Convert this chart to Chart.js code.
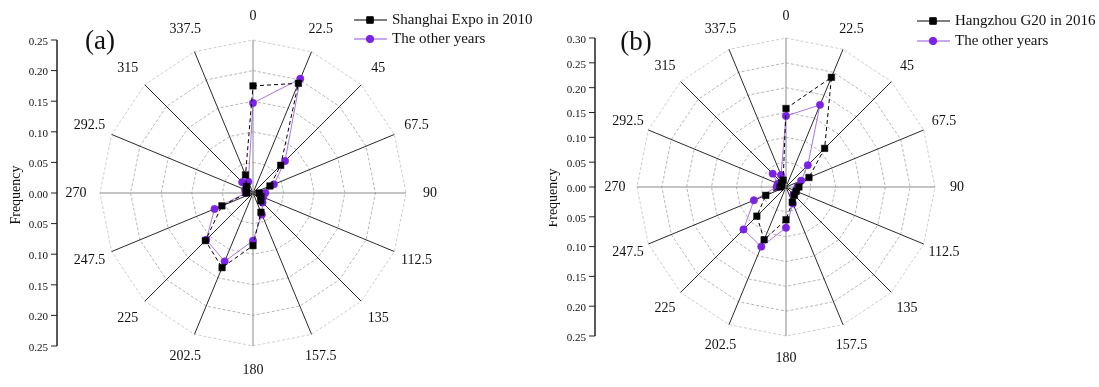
<!DOCTYPE html>
<html>
<head>
<meta charset="utf-8">
<script src="https://cdn.jsdelivr.net/npm/chart.js@4.4.1/dist/chart.umd.min.js"></script>
<style>
	body { margin: 0; background: #fff; }
	#wrap { position: relative; width: 1099px; height: 387px; overflow: hidden; background: #fff; }
	.box { position: absolute; top: 0; height: 387px; }
	#boxA { left: 0; width: 549px; }
	#boxB { left: 549px; width: 550px; }
</style>
</head>
<body>
<div id="wrap">
	<div class="box" id="boxA"><canvas id="chartA"></canvas></div>
	<div class="box" id="boxB"><canvas id="chartB"></canvas></div>
</div>
<script>
// wind directions (degrees), clockwise from north
const directions = ['0', '22.5', '45', '67.5', '90', '112.5', '135', '157.5',
	'180', '202.5', '225', '247.5', '270', '292.5', '315', '337.5'];

// (a)
const expoLabel = 'Shanghai Expo in 2010';
const expo2010 = [0.175, 0.194, 0.064, 0.030, 0.010, 0.014, 0.018, 0.034,
	0.086, 0.132, 0.110, 0.055, 0.010, 0.012, 0.015, 0.032];
const otherLabelA = 'The other years';
const otherYearsA = [0.147, 0.202, 0.074, 0.037, 0.020, 0.018, 0.022, 0.038,
	0.078, 0.121, 0.108, 0.068, 0.012, 0.014, 0.025, 0.020];

// (b)
const g20Label = 'Hangzhou G20 in 2016';
const g20in2016 = [0.158, 0.239, 0.110, 0.050, 0.026, 0.022, 0.024, 0.033,
	0.066, 0.115, 0.083, 0.044, 0.012, 0.010, 0.012, 0.015];
const otherLabelB = 'The other years';
const otherYearsB = [0.143, 0.179, 0.062, 0.033, 0.023, 0.022, 0.021, 0.036,
	0.082, 0.130, 0.121, 0.070, 0.019, 0.018, 0.038, 0.026];

// frequency side axis: from the centre upward, and from the centre downward
const freqUpA = ['0.00', '0.05', '0.10', '0.15', '0.20', '0.25'];
const freqDownA = ['0.05', '0.10', '0.15', '0.20', '0.25'];
const freqUpB = ['0.00', '0.05', '0.10', '0.15', '0.20', '0.25', '0.30'];
const freqDownB = ['0.05', '0.10', '0.15', '0.20', '0.25'];

const SERIF = '"Liberation Serif", "Times New Roman", serif';
const PURPLE = '#7b22e3';

const roseDecor = {
	id: 'roseDecor',
	afterDraw(chart, args, opts) {
		const ctx = chart.ctx;
		const r = chart.scales.r;
		const cy = r.yCenter;
		const rad = r.drawingArea;
		ctx.save();

		// direction labels round the rose
		ctx.font = '14px ' + SERIF;
		ctx.fillStyle = '#111';
		ctx.textAlign = 'center';
		ctx.textBaseline = 'middle';
		chart.data.labels.forEach((lab, i) => {
			const p = r.getPointPosition(i, rad + opts.labelOffset);
			ctx.fillText(lab, p.x, p.y);
		});

		// frequency axis on the left
		const ax = opts.axisX;
		ctx.strokeStyle = '#222';
		ctx.lineWidth = 1.5;
		ctx.beginPath();
		ctx.moveTo(ax, cy - rad);
		ctx.lineTo(ax, cy + rad);
		ctx.stroke();
		ctx.lineWidth = 1;
		ctx.font = '11px ' + SERIF;
		ctx.textAlign = 'right';
		const tick = (y, text) => {
			ctx.beginPath();
			ctx.moveTo(ax - 6, y);
			ctx.lineTo(ax, y);
			ctx.stroke();
			ctx.fillText(text, ax - 9, y + 2);
		};
		opts.up.forEach((t, i) => tick(cy - rad * i / (opts.up.length - 1), t));
		opts.down.forEach((t, i) => tick(cy + rad * (i + 1) / opts.down.length, t));

		ctx.save();
		ctx.translate(opts.titleX, opts.titleY);
		ctx.rotate(-Math.PI / 2);
		ctx.font = '14px ' + SERIF;
		ctx.textAlign = 'center';
		ctx.fillText('Frequency', 0, 0);
		ctx.restore();

		// panel letter
		ctx.font = '27px ' + SERIF;
		ctx.textAlign = 'center';
		ctx.fillText(opts.panel, opts.panelX, opts.panelY);

		// legend
		chart.data.datasets.forEach((ds, i) => {
			const y = opts.legendY + i * opts.legendGap;
			const x = opts.legendX;
			ctx.strokeStyle = ds.borderColor;
			ctx.lineWidth = 1;
			ctx.setLineDash([]);
			ctx.beginPath();
			ctx.moveTo(x, y);
			ctx.lineTo(x + 33, y);
			ctx.stroke();
			ctx.fillStyle = ds.pointBackgroundColor;
			ctx.strokeStyle = ds.pointBackgroundColor;
			Chart.helpers.drawPoint(ctx, { pointStyle: ds.pointStyle, radius: ds.pointRadius, borderWidth: 0.5, rotation: 0 }, x + 16, y);
			ctx.fillStyle = '#111';
			ctx.font = '15px ' + SERIF;
			ctx.textAlign = 'left';
			ctx.fillText(ds.label, x + 38, y);
		});
		ctx.restore();
	}
};

function blackSet(label, data) {
	return {
		label: label,
		data: data,
		fill: false,
		borderColor: '#000',
		borderWidth: 1,
		borderDash: [4, 3],
		pointStyle: 'rect',
		pointRadius: 4.6,
		pointBackgroundColor: '#000',
		pointBorderColor: '#000',
		pointBorderWidth: 0.5
	};
}

function purpleSet(label, data) {
	return {
		label: label,
		data: data,
		fill: false,
		borderColor: 'rgba(128, 50, 226, 0.85)',
		borderWidth: 0.8,
		pointStyle: 'circle',
		pointRadius: 3.7,
		pointBackgroundColor: PURPLE,
		pointBorderColor: PURPLE,
		pointBorderWidth: 0.5
	};
}

function makeRose(canvasId, datasets, max, padding, decor) {
	return new Chart(document.getElementById(canvasId), {
		type: 'radar',
		data: {
			labels: directions,
			datasets: datasets
		},
		options: {
			responsive: true,
			maintainAspectRatio: false,
			animation: false,
			events: [],
			layout: { padding: padding },
			plugins: {
				legend: { display: false },
				tooltip: { enabled: false },
				roseDecor: decor
			},
			scales: {
				r: {
					min: 0,
					max: max,
					ticks: { stepSize: 0.05, display: false },
					pointLabels: { display: false },
					grid: {
						circular: false,
						lineWidth: 0.8,
						color: c => (c.tick && c.tick.value > max - 0.001) ? '#c2c2c2' : '#a4a4a4'
					},
					border: { dash: [3, 2] },
					angleLines: {
						lineWidth: 1,
						color: c => c.index % 4 === 0 ? '#8a8a8a' : '#2a2a2a'
					}
				}
			}
		},
		plugins: [roseDecor]
	});
}

makeRose('chartA',
	[blackSet(expoLabel, expo2010), purpleSet(otherLabelA, otherYearsA)],
	0.25,
	{ left: 100, top: 40, right: 143, bottom: 41 },
	{ labelOffset: 24, axisX: 57, up: freqUpA, down: freqDownA, titleX: 16, titleY: 195,
		panel: '(a)', panelX: 100, panelY: 42, legendX: 354, legendY: 20, legendGap: 19 });

makeRose('chartB',
	[blackSet(g20Label, g20in2016), purpleSet(otherLabelB, otherYearsB)],
	0.30,
	{ left: 88, top: 38, right: 164, bottom: 51 },
	{ labelOffset: 22, axisX: 46, up: freqUpB, down: freqDownB, titleX: 4, titleY: 198,
		panel: '(b)', panelX: 87, panelY: 43, legendX: 368, legendY: 21, legendGap: 20 });
</script>
</body>
</html>
